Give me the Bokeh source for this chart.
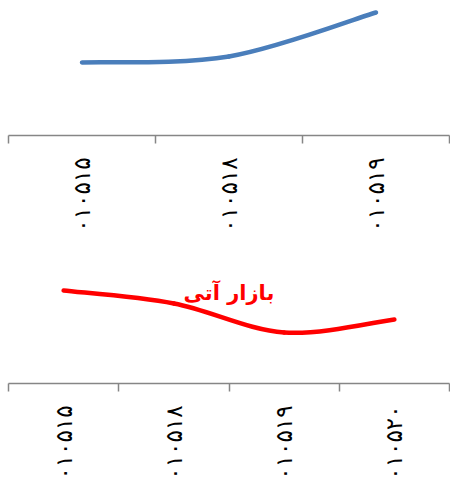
import math
from bokeh.plotting import figure
from bokeh.models import Range1d, FixedTicker, Label, ColumnDataSource
from bokeh.layouts import column
from bokeh.embed import file_html
from bokeh.resources import INLINE

# ---- data ----
top_dates = ["۰۱۰۵۱۵", "۰۱۰۵۱۸", "۰۱۰۵۱۹"]
top_values = [73, 79, 123]

bottom_dates = ["۰۱۰۵۱۵", "۰۱۰۵۱۸", "۰۱۰۵۱۹", "۰۱۰۵۲۰"]
bottom_values = [93, 80, 51, 64]
bottom_title = "بازار آتی"

AXIS_GRAY = "#868686"
FONT = "DejaVu Sans"


def smooth_segments(vals):
    """Bezier segments (Excel-like smoothed line) through the data points."""
    n = len(vals)
    pts = [(i + 0.5, v) for i, v in enumerate(vals)]
    seg = dict(x0=[], y0=[], x1=[], y1=[], cx0=[], cy0=[], cx1=[], cy1=[])
    for i in range(n - 1):
        pp = pts[max(i - 1, 0)]
        p0 = pts[i]
        p1 = pts[i + 1]
        pn = pts[min(i + 2, n - 1)]
        seg["x0"].append(p0[0]); seg["y0"].append(p0[1])
        seg["x1"].append(p1[0]); seg["y1"].append(p1[1])
        seg["cx0"].append(p0[0] + (p1[0] - pp[0]) / 6.0)
        seg["cy0"].append(p0[1] + (p1[1] - pp[1]) / 6.0)
        seg["cx1"].append(p1[0] - (pn[0] - p0[0]) / 6.0)
        seg["cy1"].append(p1[1] - (pn[1] - p0[1]) / 6.0)
    return ColumnDataSource(seg)


def make_fig(cats, vals, color, height, ymax, border_left, border_bottom):
    n = len(cats)
    p = figure(width=450, height=height,
               x_range=Range1d(0, n), y_range=Range1d(0, ymax),
               output_backend="svg", toolbar_location=None,
               min_border_left=border_left, min_border_right=1,
               min_border_top=0, min_border_bottom=border_bottom)
    p.outline_line_color = None
    p.grid.visible = False
    p.yaxis.visible = False
    p.background_fill_color = "white"
    p.border_fill_color = "white"

    centers = [i + 0.5 for i in range(n)]
    bounds = [float(i) for i in range(n + 1)]
    ax = p.xaxis[0]
    ax.ticker = FixedTicker(ticks=centers, minor_ticks=bounds)
    ax.major_label_overrides = {c: lab for c, lab in zip(centers, cats)}
    ax.major_label_orientation = math.pi / 2
    ax.major_label_text_font = FONT
    ax.major_label_text_font_size = "23px"
    ax.major_label_text_color = "black"
    ax.major_label_standoff = 14
    ax.major_tick_line_color = None
    ax.major_tick_in = 0
    ax.major_tick_out = 0
    ax.minor_tick_in = 0
    ax.minor_tick_out = 8
    ax.minor_tick_line_color = AXIS_GRAY
    ax.minor_tick_line_width = 1.5
    ax.axis_line_color = AXIS_GRAY
    ax.axis_line_width = 1.5

    src = smooth_segments(vals)
    p.bezier(x0="x0", y0="y0", x1="x1", y1="y1", cx0="cx0", cy0="cy0",
             cx1="cx1", cy1="cy1", source=src, line_color=color,
             line_width=4.5, line_cap="round")
    return p


top = make_fig(top_dates, top_values, "#4a7ebb", 240, 135, 1, 105)
bottom = make_fig(bottom_dates, bottom_values, "#ff0000", 249, 143, 8, 106)

bottom.add_layout(Label(x=2.0, y=91, text=bottom_title, text_font=FONT,
                        text_font_style="bold", text_font_size="21px",
                        text_color="#ff0000", text_align="center",
                        text_baseline="middle"))

layout = column(top, bottom, spacing=0)
open("out.html", "w").write(file_html(layout, INLINE))
